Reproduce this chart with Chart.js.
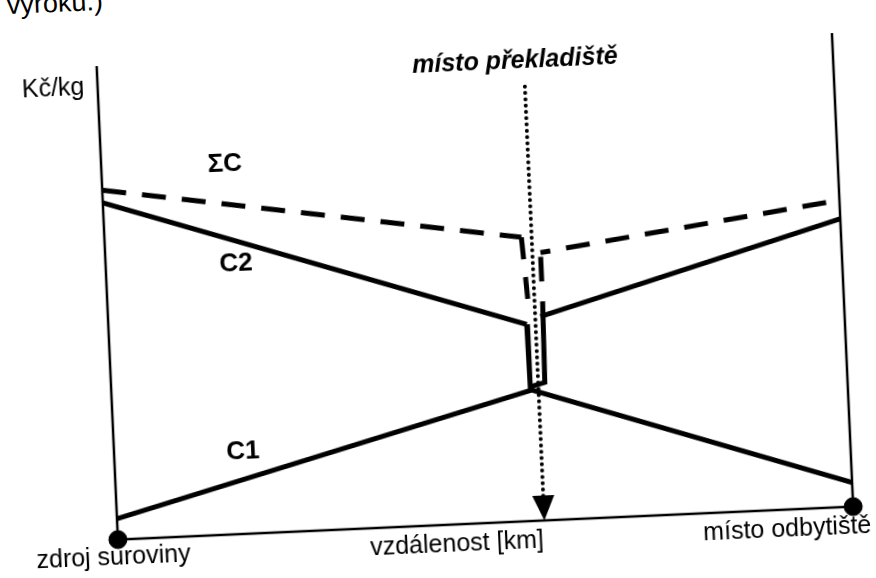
<!DOCTYPE html>
<html>
<head>
<meta charset="utf-8">
<script src="https://cdn.jsdelivr.net/npm/chart.js@4.4.1/dist/chart.umd.min.js"></script>
<style>
  html, body { margin: 0; padding: 0; background: #fff; overflow: hidden; }
  #page { position: relative; width: 876px; height: 578px; transform: rotate(-2.57deg); transform-origin: 438px 289px; }
  #prev { position: absolute; left: 20px; top: -27px; font: 27px "Liberation Sans", Arial, sans-serif; line-height: 1; color: #000; }
  canvas { position: absolute; left: 0; top: 0; }
</style>
</head>
<body>
<div id="page">
  <div id="prev">výroku.)</div>
  <canvas id="chart" width="876" height="578"></canvas>
</div>
<script>
// distance along the route in km (0 = source, 100 = market), cost in Kč/kg
const axisMax = 100;
const transshipmentKm = 58;

const c1Km = [0, 57.1, 100];
const c1Cost = [4.4, 27.6, 5.1];

const c2LeftKm = [0, 56.8];
const c2LeftCost = [71.1, 41.5];
const c2RightKm = [58.7, 100];
const c2RightCost = [43.0, 60.8];

const transferKm = [56.8, 56.9, 58.9, 59.1];
const transferCost = [41.5, 28.3, 29.1, 46.2];

const sumLeftKm = [0, 56.6];
const sumLeftCost = [73.8, 59.9];
const sumDropKm = [56.6, 57.1];
const sumDropCost = [59.9, 46.8];
const sumJumpKm = [59.1, 59.1];
const sumJumpCost = [50.4, 55.6];
const sumRightKm = [59.1, 98.4];
const sumRightCost = [56.5, 64.4];

const placeKm = [0, 100];
const placeLabels = ['zdroj suroviny', 'místo odbytiště'];
const axisTitleX = 'vzdálenost [km]';
const axisTitleY = 'Kč/kg';
const seriesNames = ['C1', 'C2', 'ΣC'];

function pts(xs, ys) {
    return xs.map((v, i) => ({ x: v, y: ys[i] }));
}

function line(data, width, extra) {
    return Object.assign({
        data: data,
        showLine: true,
        borderColor: '#000',
        borderWidth: width,
        pointRadius: 0,
        tension: 0,
        clip: false
    }, extra || {});
}

const labelPlugin = {
    id: 'labels',
    afterDatasetsDraw(chart) {
        const ctx = chart.ctx;
        const x = chart.scales.x, y = chart.scales.y;
        ctx.save();
        ctx.fillStyle = '#000';

        // arrow head of the transshipment line
        const ax = x.getPixelForValue(transshipmentKm);
        const ay = y.getPixelForValue(0);
        ctx.beginPath();
        ctx.moveTo(ax, ay);
        ctx.lineTo(ax - 11, ay - 25);
        ctx.lineTo(ax + 11, ay - 25);
        ctx.closePath();
        ctx.fill();

        const sans = '"Liberation Sans", Arial, sans-serif';
        const texts = [
            { t: axisTitleY, x: -1.8, y: 95.6, f: '25px ' + sans, a: 'right' },
            { t: 'místo překladiště', x: 56.8, y: 97.0, f: 'italic bold 25px ' + sans, a: 'center' },
            { t: seriesNames[2], x: 16.8, y: 78.0, f: 'bold 26px ' + sans, a: 'center' },
            { t: seriesNames[1], x: 17.7, y: 57.0, f: 'bold 26px ' + sans, a: 'center' },
            { t: seriesNames[0], x: 17.5, y: 17.4, f: 'bold 26px ' + sans, a: 'center' },
            { t: placeLabels[0], x: -0.7, y: -3.9, f: '25px ' + sans, a: 'center' },
            { t: axisTitleX, x: 46.0, y: -4.2, f: '25px ' + sans, a: 'center' },
            { t: placeLabels[1], x: 79.5, y: -4.2, f: '25px ' + sans, a: 'left' }
        ];
        ctx.textBaseline = 'middle';
        texts.forEach(o => {
            ctx.font = o.f;
            ctx.textAlign = o.a;
            ctx.fillText(o.t, x.getPixelForValue(o.x), y.getPixelForValue(o.y));
        });
        ctx.restore();
    }
};

const ctx = document.getElementById('chart').getContext('2d');
const chart = new Chart(ctx, {
    type: 'scatter',
    data: {
        datasets: [
            // axes and market vertical
            line(pts([0, 0], [0, axisMax]), 2.5),
            line(pts([axisMax, axisMax], [0, axisMax]), 2.5),
            line(pts([0, axisMax], [0, 0]), 2.5),
            // transshipment place (dotted)
            line(pts([transshipmentKm, transshipmentKm], [91.6, 4]), 4, { borderDash: [0, 6.3], borderCapStyle: 'round' }),
            // cost curves
            line(pts(c1Km, c1Cost), 5),
            line(pts(c2LeftKm, c2LeftCost), 5),
            line(pts(c2RightKm, c2RightCost), 5),
            line(pts(transferKm, transferCost), 5),
            line(pts(sumLeftKm, sumLeftCost), 5, { borderDash: [24, 16] }),
            line(pts(sumDropKm, sumDropCost), 5, { borderDash: [22, 18] }),
            line(pts(sumJumpKm, sumJumpCost), 5),
            line(pts(sumRightKm, sumRightCost), 5, { borderDash: [24, 16], borderDashOffset: 14 }),
            // source and market
            {
                data: pts(placeKm, [0, 0]),
                showLine: false,
                pointRadius: 9,
                pointBackgroundColor: '#000',
                pointBorderColor: '#000',
                clip: false
            }
        ]
    },
    options: {
        responsive: false,
        animation: false,
        layout: { padding: { left: 107, right: 33, top: 51, bottom: 53 } },
        plugins: { legend: { display: false }, tooltip: { enabled: false } },
        scales: {
            x: { type: 'linear', min: 0, max: axisMax, display: false },
            y: { type: 'linear', min: 0, max: axisMax, display: false }
        }
    },
    plugins: [labelPlugin]
});
</script>
</body>
</html>
